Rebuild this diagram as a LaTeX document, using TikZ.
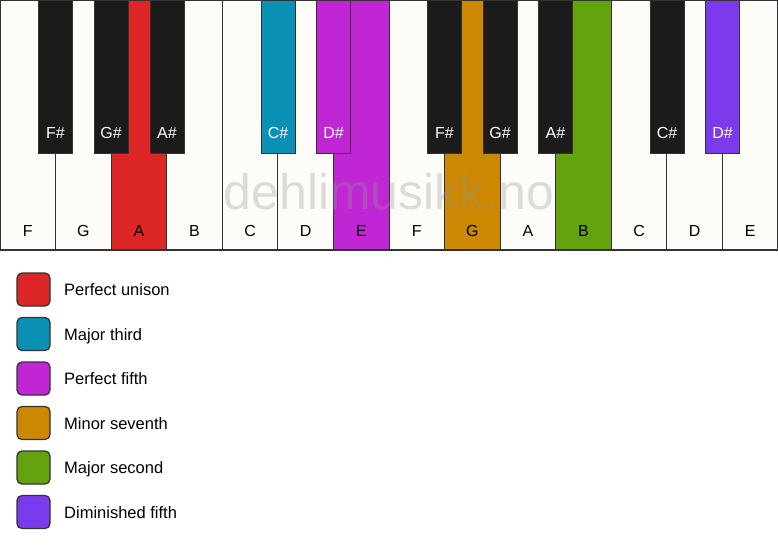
\documentclass[tikz,border=0pt]{standalone}
\usepackage{fontspec}
\setmainfont{Liberation Sans}
\definecolor{kwhite}{HTML}{FDFCF8}
\definecolor{kblack}{HTML}{1B1B1B}
\definecolor{cred}{HTML}{DD2727}
\definecolor{cteal}{HTML}{0A90B5}
\definecolor{cmag}{HTML}{C026D3}
\definecolor{corange}{HTML}{CC8800}
\definecolor{cgreen}{HTML}{62A30E}
\definecolor{cpurple}{HTML}{7C3AED}
\definecolor{kline}{HTML}{333333}
\definecolor{wmark}{HTML}{969696}
\begin{document}
\begin{tikzpicture}[x=1pt,y=-1pt,
  whitekey/.style={draw=kline,line width=1pt,fill=kwhite},
  blackkey/.style={draw=kline,line width=1pt,fill=kblack},
  wlabel/.style={font=\fontsize{16}{18}\selectfont,text=black,anchor=base},
  blabel/.style={font=\fontsize{16}{18}\selectfont,text=white,anchor=base},
  legbox/.style={draw=kline,line width=1.3pt,rounded corners=5pt,minimum width=33pt,minimum height=33pt,inner sep=0pt},
  legtext/.style={font=\fontsize{16.5}{18}\selectfont,anchor=base west,inner sep=0pt}]
\useasboundingbox (0,0) rectangle (778,550);
\fill[white] (0,0) rectangle (778,550);
% white keys
\def\kw{55.571}
\foreach \i/\n/\c in {0/F/kwhite,1/G/kwhite,2/A/cred,3/B/kwhite,4/C/kwhite,5/D/kwhite,6/E/cmag,7/F/kwhite,8/G/corange,9/A/kwhite,10/B/cgreen,11/C/kwhite,12/D/kwhite,13/E/kwhite}{
  \path[whitekey,fill=\c] (\i*\kw,0) rectangle ({(\i+1)*\kw},250);
  \node[wlabel] (w\i) at ({(\i+0.5)*\kw},236) {\n};
}
% black keys
\foreach \x/\n/\c in {38.5/F\#/kblack,94/G\#/kblack,150/A\#/kblack,261/C\#/cteal,316.5/D\#/cmag,427.5/F\#/kblack,483/G\#/kblack,538.5/A\#/kblack,650/C\#/kblack,705.5/D\#/cpurple}{
  \path[blackkey,fill=\c] (\x,-1) rectangle ({\x+34},153);
  \node[blabel] at ({\x+17},138) {\n};
}
\draw[kline,line width=2pt] (0,0) rectangle (778,250);
% watermark
\node[font=\fontsize{50}{52}\selectfont,text=wmark,opacity=0.32,anchor=base] (wm) at (389,209) {dehlimusikk.no};
% legend
\foreach \j/\c/\t in {0/cred/Perfect unison,1/cteal/Major third,2/cmag/Perfect fifth,3/corange/Minor seventh,4/cgreen/Major second,5/cpurple/Diminished fifth}{
  \node[legbox,fill=\c] (b\j) at (33.5,{289.5+\j*44.5}) {};
  \node[legtext] (t\j) at (64,{295.5+\j*44.5}) {\t};
}
\end{tikzpicture}
\end{document}
